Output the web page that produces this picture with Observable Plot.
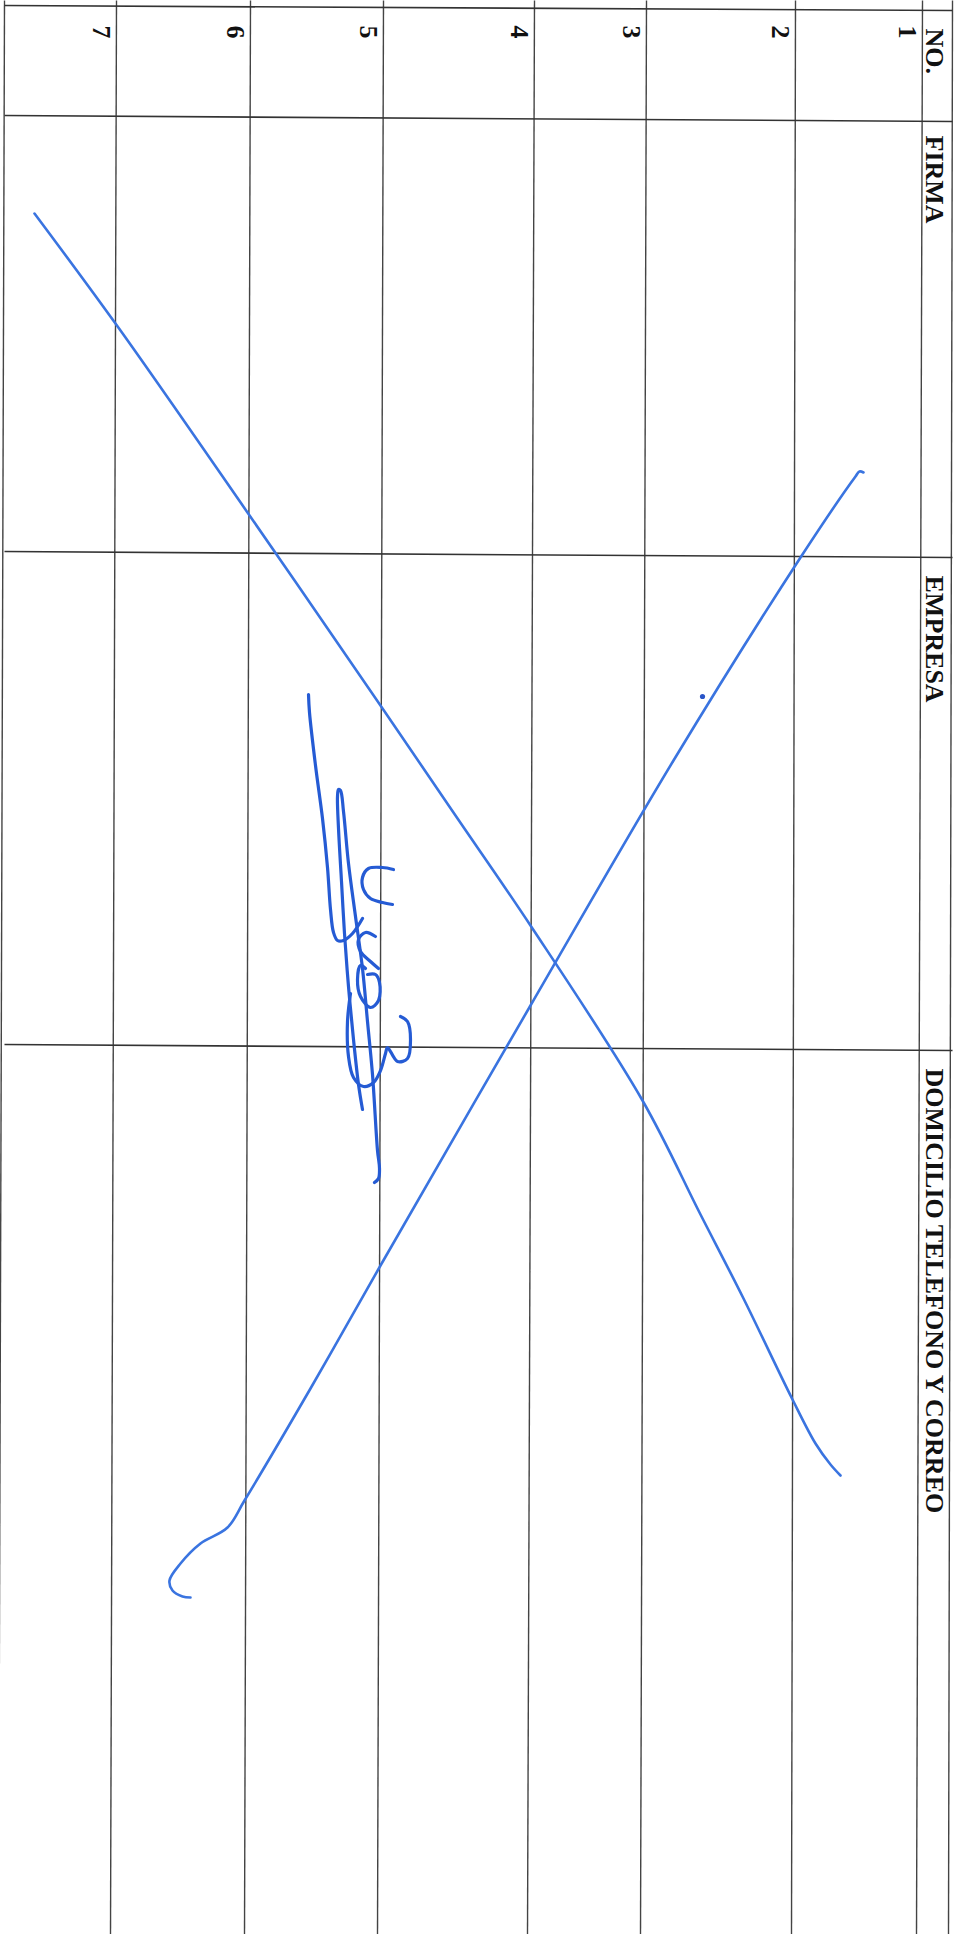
<!DOCTYPE html>
<html>
<head>
<meta charset="utf-8">
<script src="https://cdn.jsdelivr.net/npm/d3@7"></script>
<script src="https://cdn.jsdelivr.net/npm/@observablehq/plot@0.6"></script>
<style>
  html, body { margin: 0; padding: 0; background: #fff; }
  svg { display: block; }
</style>
</head>
<body>
<div id="chart"></div>
<script>
// ---- data (page units: x across the scanned sheet, y down the sheet) ----
const rowLabels = ["1", "2", "3", "4", "5", "6", "7"];
const rowLineTop    = [922, 795, 646, 534, 383, 250, 116];
const rowLineBottom = [916, 791, 640, 527, 377, 244, 110];
const borderTop    = [4, 952];
const borderBottom = [-2, 948];

const colHeaders = ["NO.", "FIRMA", "EMPRESA", "DOMICILIO TELEFONO Y CORREO"];
const colLineLeft  = [5, 115, 551, 1044];
const colLineRight = [10, 121, 557, 1050];
const colTextY     = [28, 135, 575, 1068];

const strokeA = [[34,213],[120,330],[247,512],[380,705],[455,815],[530,925],[642,1100],[700,1214],[743,1298],[791,1397],[815,1443],[830,1464],[840,1475]];
const strokeB = [[863,472],[859,471],[855,476],[800,557],[673,760],[530,1005],[380,1265],[310,1388],[244,1500],[227,1527],[200,1543],[180,1563],[169,1580],[172,1590],[182,1596],[190,1597]];
const sig1 = [[308,694],[309,712],[315,765],[322,818],[327,867],[330,909],[333,932],[337,940],[343,940],[352,933],[362,918]];
const sig2 = [[393,869],[382,867],[368,868],[362,877],[363,889],[370,898],[382,902],[392,904]];
const sig3 = [[362,1109],[358,1084],[353,1039],[348,986],[344,933],[341,881],[338,828],[337,796],[338,789],[340,790],[343,811],[348,863],[355,916],[362,968],[367,1021],[372,1074],[377,1150],[379,1168],[378,1178],[374,1182]];
const sig4 = [[375,936],[365,932],[358,939],[360,951],[370,961],[378,968]];
const sig5 = [[365,968],[360,965],[357,979],[360,996],[370,1007],[378,1000],[379,982],[375,974],[367,974]];
const sig6 = [[350,993],[347,1021],[348,1056],[353,1077],[363,1086],[373,1082],[380,1070],[385,1053],[387,1047],[397,1061],[407,1058],[410,1039],[407,1021],[400,1016]];
const inkDots = [[702,696]];

// ---- derived tables ----
const verticalLines = rowLineTop.map((t, i) => ({top: t, bottom: rowLineBottom[i]}))
  .concat(borderTop.map((t, i) => ({top: t, bottom: borderBottom[i]})));
const horizontalLines = colLineLeft.map((l, i) => ({left: l, right: colLineRight[i]}));
const rows = rowLabels.map((label, i) => ({label, x: rowLineTop[i] - 24}));
const headers = colHeaders.map((label, i) => ({label, y: colTextY[i]}));
const penStrokes = [strokeA, strokeB].flatMap((s, k) => s.map(p => ({x: p[0], y: p[1], k})));
const sigStrokes = [sig1, sig2, sig3, sig4, sig5, sig6].flatMap((s, k) => s.map(p => ({x: p[0], y: p[1], k})));

const W = 957, H = 1934;
const chart = Plot.plot({
  width: W,
  height: H,
  margin: 0,
  x: {domain: [0, W], range: [0, W], axis: null},
  y: {domain: [0, H], range: [0, H], axis: null},
  style: {background: "#fff"},
  marks: [
    Plot.link(verticalLines, {x1: "top", y1: () => 0, x2: "bottom", y2: () => H, stroke: "#444", strokeWidth: 1.4}),
    Plot.link(horizontalLines, {x1: () => 4, y1: "left", x2: () => 952, y2: "right", stroke: "#333", strokeWidth: 1.6}),
    Plot.text(headers, {x: () => 925, y: "y", text: "label", rotate: 90, textAnchor: "start", lineAnchor: "bottom",
      fontFamily: "Liberation Serif", fontWeight: "bold", fontSize: 26, fill: "#111"}),
    Plot.text(rows, {x: "x", y: () => 25, text: "label", rotate: 90, textAnchor: "start", lineAnchor: "bottom",
      fontFamily: "Liberation Serif", fontWeight: "bold", fontSize: 26, fill: "#111"}),
    Plot.line(penStrokes, {x: "x", y: "y", z: "k", curve: "catmull-rom", stroke: "#3a74e0", strokeWidth: 2.6, strokeLinecap: "round"}),
    Plot.line(sigStrokes, {x: "x", y: "y", z: "k", curve: "catmull-rom", stroke: "#255bd4", strokeWidth: 3.2, strokeLinecap: "round", strokeLinejoin: "round"}),
    Plot.dot(inkDots, {x: d => d[0], y: d => d[1], r: 2.6, fill: "#2a55c8"})
  ]
});
document.getElementById("chart").appendChild(chart);
</script>
</body>
</html>
